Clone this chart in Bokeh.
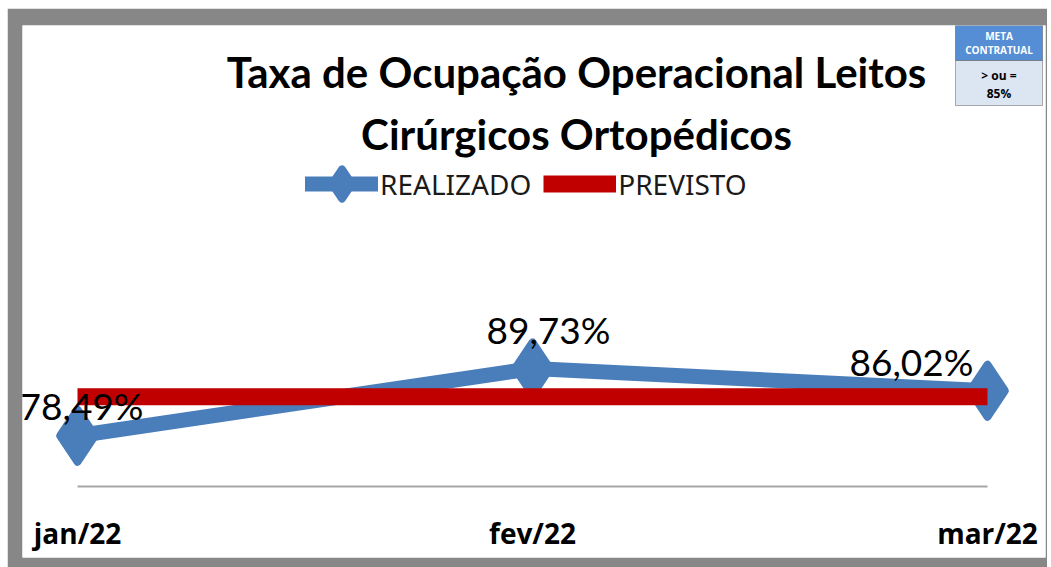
from bokeh.plotting import figure
from bokeh.models import (Range1d, Legend, LegendItem, Label,
                          BoxAnnotation, ColumnDataSource)
from bokeh.layouts import column
from bokeh.embed import file_html
from bokeh.resources import INLINE
from bokeh.core.properties import value

# ---- data ----
CATEGORIES = ["jan/22", "fev/22", "mar/22"]
REALIZADO = [78.49, 89.73, 86.02]
PREVISTO = [85.0, 85.0, 85.0]
Y_AXIS_MIN = 70.0
Y_LOW, Y_HIGH = 58.13, 147.09
TITLE_LINES = ["Taxa de Ocupação Operacional Leitos", "Cirúrgicos Ortopédicos"]
LEGEND_NAMES = ["REALIZADO", "PREVISTO"]
META_HEAD = ["META", "CONTRATUAL"]
META_BODY = ["> ou =", "85%"]

# label placement (screen-pixel offsets)
LABEL_DX = [4, 16, -76]
LABEL_DY = [-30, -39, -29]

BLUE = "#4A7EBB"
RED = "#C00000"
FRAME_GRAY = "#878787"

idx = list(range(len(CATEGORIES)))
labels = [f"{v:.2f}%".replace(".", ",") for v in REALIZADO]

src = ColumnDataSource(dict(x=idx, real=REALIZADO, prev=PREVISTO, lab=labels,
                            dx=LABEL_DX, dy=LABEL_DY))
cat_src = ColumnDataSource(dict(x=idx, y=[Y_AXIS_MIN] * len(idx), cat=CATEGORIES))

p = figure(width=1040, height=559, output_backend="svg", toolbar_location=None,
           x_range=Range1d(-0.1209, 2.1275), y_range=Range1d(Y_LOW, Y_HIGH),
           x_axis_location=None, y_axis_location=None,
           min_border_left=15, min_border_right=2,
           min_border_top=17, min_border_bottom=10)
p.outline_line_color = None
p.grid.visible = False
p.background_fill_color = "white"
p.border_fill_color = FRAME_GRAY

# category axis line and labels
p.segment(x0=idx[0], x1=idx[-1], y0=Y_AXIS_MIN, y1=Y_AXIS_MIN,
          line_color="#A6A6A6", line_width=2)
p.text("x", "y", text="cat", source=cat_src, y_offset=46,
       text_align="center", text_baseline="alphabetic",
       text_font=value("Open Sans"), text_font_style="bold",
       text_font_size="28px", text_color="#000000")

r_line = p.line("x", "real", source=src, line_color=BLUE, line_width=15,
                line_join="round", line_cap="round")
r_mark = p.scatter("x", "real", source=src, marker="diamond", size=52,
                   fill_color=BLUE, line_color=BLUE, line_width=8,
                   line_join="round")
r_prev = p.line("x", "prev", source=src, line_color=RED, line_width=17,
                line_cap="butt")

p.text("x", "real", text="lab", source=src, x_offset="dx", y_offset="dy",
       text_align="center", text_baseline="middle",
       text_font=value("Lato"), text_font_size="37px", text_color="#000000")

legend = Legend(items=[LegendItem(label=LEGEND_NAMES[0], renderers=[r_line, r_mark]),
                       LegendItem(label=LEGEND_NAMES[1], renderers=[r_prev])],
                location=(283, 337), orientation="horizontal",
                padding=0, margin=0, spacing=12, label_standoff=2,
                glyph_width=73, glyph_height=73,
                background_fill_alpha=0, border_line_color=None,
                label_text_font="Noto Sans", label_text_font_size="28px",
                label_text_color="#1a1a1a")
p.add_layout(legend)

for text, y in zip(TITLE_LINES, [486, 424]):
    p.add_layout(Label(x=554, y=y, x_units="screen", y_units="screen", text=text,
                       text_align="center", text_baseline="alphabetic",
                       text_font="Lato", text_font_style="bold",
                       text_font_size="42px", text_color="#000000"))

# META CONTRATUAL box
box_kw = dict(left=933, right=1020, left_units="screen", right_units="screen",
              top_units="screen", bottom_units="screen", fill_alpha=1,
              line_color="#000000", line_width=1)
p.add_layout(BoxAnnotation(top=532, bottom=497, fill_color="#558ED5", **box_kw))
p.add_layout(BoxAnnotation(top=497, bottom=452, fill_color="#DCE6F2", **box_kw))
for text, y, col, fs in [(META_HEAD[0], 522, "white", "10px"),
                         (META_HEAD[1], 508, "white", "10px"),
                         (META_BODY[0], 482, "black", "12px"),
                         (META_BODY[1], 464, "black", "12px")]:
    p.add_layout(Label(x=976.5, y=y, x_units="screen", y_units="screen", text=text,
                       text_align="center", text_baseline="middle",
                       text_font="Open Sans", text_font_style="bold",
                       text_font_size=fs, text_color=col))

layout = column(p, styles={"padding": "8px 0 0 7px", "background-color": "white"})

open("out.html", "w").write(file_html(layout, INLINE))
